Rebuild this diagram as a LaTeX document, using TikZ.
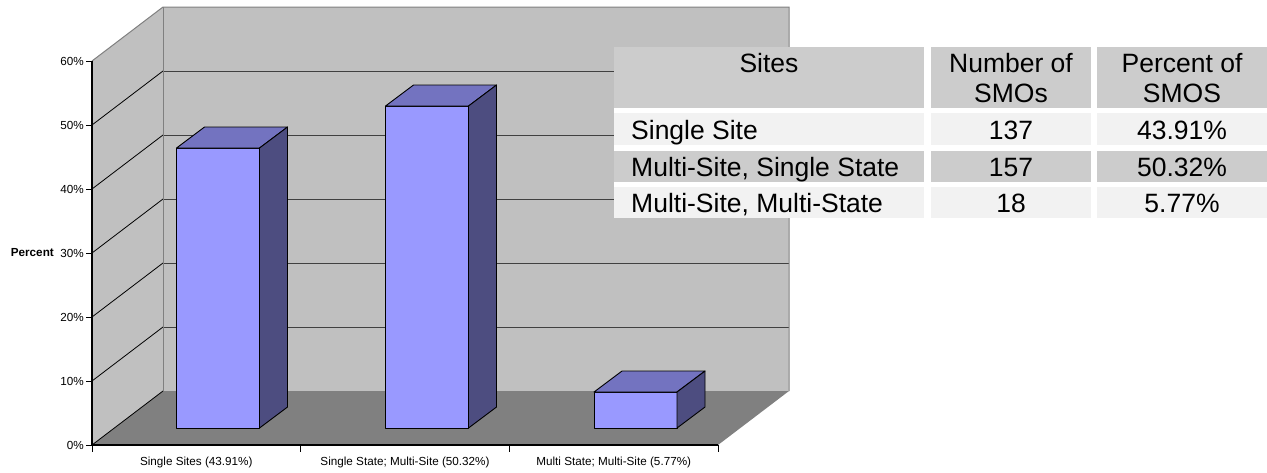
\documentclass[tikz,border=0pt]{standalone}
\usepackage{fontspec}
\setmainfont{Liberation Sans}
\definecolor{wallc}{HTML}{C0C0C0}
\definecolor{floorc}{HTML}{808080}
\definecolor{gridc}{HTML}{404040}
\definecolor{barfront}{HTML}{9999FF}
\definecolor{bartop}{HTML}{7373C0}
\definecolor{barside}{HTML}{4D4D80}
\definecolor{hdrc}{HTML}{CCCCCC}
\definecolor{lightc}{HTML}{F2F2F2}
\tikzset{
  axlabel/.style={font=\fontsize{11.7}{14}\selectfont, inner sep=0pt},
  tabtext/.style={font=\fontsize{26.5}{30}\selectfont, inner sep=0pt, anchor=base},
  barface/.style={draw=black, line width=0.9pt, line join=round},
}
\begin{document}
\begin{tikzpicture}[x=1pt,y=-1pt]
\useasboundingbox (0,0) rectangle (1267,472);
% walls
\fill[wallc] (92,61) -- (163,7) -- (163,391) -- (92,445) -- cycle;
\fill[wallc] (163,7) rectangle (789,391);
\fill[floorc] (92,445) -- (163,391) -- (789,391) -- (718,445) -- cycle;
% gridlines
\foreach \k in {1,...,5}{
  \draw[black, line width=0.8pt] (92,{445-64*\k}) -- (163,{391-64*\k});
  \draw[gridc, line width=1pt] (163,{391-64*\k}) -- (789,{391-64*\k});
}
\draw[black, line width=0.8pt] (92,445) -- (163,391);
% wall borders
\draw[floorc, line width=1pt] (92,61) -- (163,7) -- (789,7) -- (789,391);
\draw[floorc, line width=1pt] (163,7) -- (163,391);
% bars
\foreach \L/\T in {176.5/148,385.5/106,594/392}{
  \fill[barfront] (\L,428) rectangle (\L+83,\T);
  \draw[barface] (\L,428) rectangle (\L+83,\T);
  \filldraw[barface, fill=bartop] (\L,\T) -- (\L+28,\T-21) -- (\L+111,\T-21) -- (\L+83,\T) -- cycle;
  \filldraw[barface, fill=barside] (\L+83,\T) -- (\L+111,\T-21) -- (\L+111,407) -- (\L+83,428) -- cycle;
}
% axes
\draw[black, line width=1.3pt] (92,61) -- (92,445);
\draw[black, line width=1.6pt] (92,445) -- (718,445);
\foreach \k in {0,...,6}{
  \draw[black, line width=0.9pt] (86,{445-64*\k}) -- (92,{445-64*\k});
}
\foreach \x in {92,300.7,509.3,718}{
  \draw[black, line width=0.9pt] (\x,445) -- (\x,452);
}
% y labels
\node[axlabel, anchor=east] (y0) at (84,445) {0\%};
\node[axlabel, anchor=east] (y1) at (84,381) {10\%};
\node[axlabel, anchor=east] (y2) at (84,317) {20\%};
\node[axlabel, anchor=east] (y3) at (84,253) {30\%};
\node[axlabel, anchor=east] (y4) at (84,189) {40\%};
\node[axlabel, anchor=east] (y5) at (84,125) {50\%};
\node[axlabel, anchor=east] (y6) at (84,61) {60\%};
\node[axlabel, anchor=east, font=\fontsize{11.7}{14}\selectfont\bfseries] (ytitle) at (54,253) {Percent};
% x labels
\node[axlabel] (c1) at (196.3,462) {Single Sites (43.91\%)};
\node[axlabel] (c2) at (405,462) {Single State; Multi-Site (50.32\%)};
\node[axlabel] (c3) at (613.7,462) {Multi State; Multi-Site (5.77\%)};
% table
\fill[white] (614,47) rectangle (1267,218);
\fill[hdrc] (614,47) rectangle (924,108);
\fill[hdrc] (931,47) rectangle (1091,108);
\fill[hdrc] (1097,47) rectangle (1267,108);
\fill[lightc] (614,113) rectangle (924,145);
\fill[lightc] (931,113) rectangle (1091,145);
\fill[lightc] (1097,113) rectangle (1267,145);
\fill[hdrc] (614,151) rectangle (924,182);
\fill[hdrc] (931,151) rectangle (1091,182);
\fill[hdrc] (1097,151) rectangle (1267,182);
\fill[lightc] (614,187) rectangle (924,218);
\fill[lightc] (931,187) rectangle (1091,218);
\fill[lightc] (1097,187) rectangle (1267,218);
\node[tabtext] (h1) at (769,72) {Sites};
\node[tabtext] (h2a) at (1011,72) {Number of};
\node[tabtext] (h2b) at (1011,102) {SMOs};
\node[tabtext] (h3a) at (1182,72) {Percent of};
\node[tabtext] (h3b) at (1182,102) {SMOS};
\node[tabtext, anchor=base west] (r1) at (631,139) {Single Site};
\node[tabtext, anchor=base west] (r2) at (631,176) {Multi-Site, Single State};
\node[tabtext, anchor=base west] (r3) at (631,212) {Multi-Site, Multi-State};
\node[tabtext] (n1) at (1011,139) {137};
\node[tabtext] (n2) at (1011,176) {157};
\node[tabtext] (n3) at (1011,212) {18};
\node[tabtext] (p1) at (1182,139) {43.91\%};
\node[tabtext] (p2) at (1182,176) {50.32\%};
\node[tabtext] (p3) at (1182,212) {5.77\%};
\end{tikzpicture}
\end{document}
